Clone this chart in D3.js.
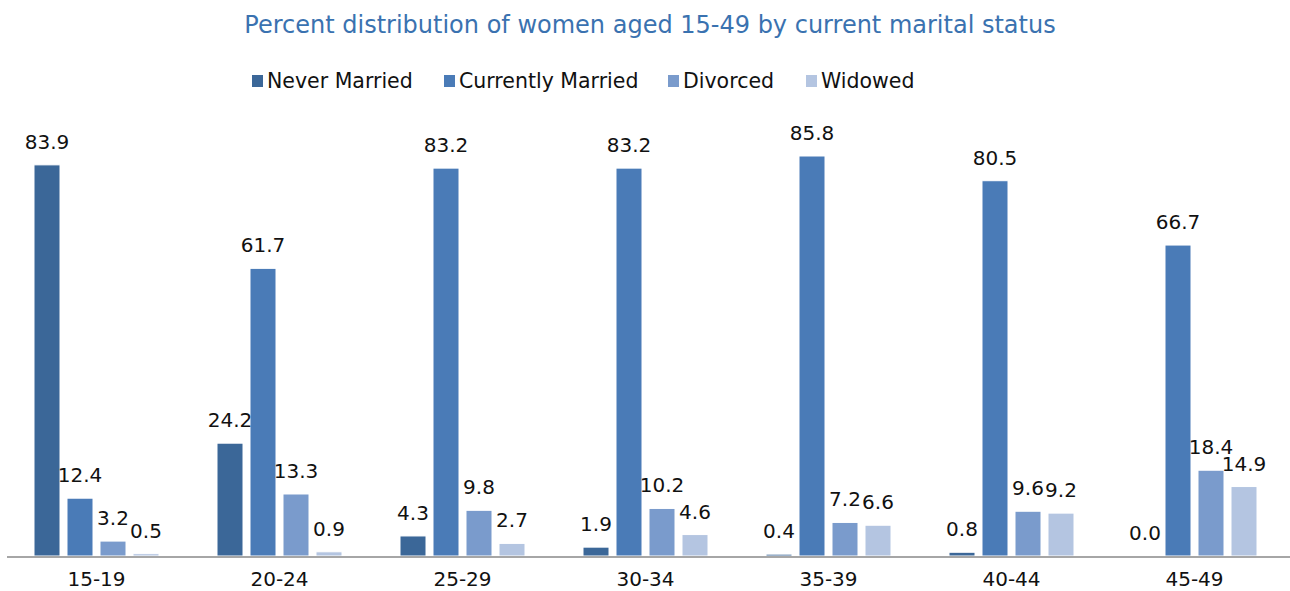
<!DOCTYPE html>
<html lang="en">
	<head>
		<meta charset="UTF-8" />
		<title>Marital status chart</title>
		<style>
			body { margin: 0; background: #fff; }
			text { font-family: "DejaVu Sans", sans-serif; }
		</style>
	</head>
	<body>
		<div id="chart"></div>
		<script src="https://d3js.org/d3.v7.min.js"></script>
		<script>
			const width = 1290;
			const height = 591;

			const ageGroups = ["15-19", "20-24", "25-29", "30-34", "35-39", "40-44", "45-49"];
			const seriesNames = ["Never Married", "Currently Married", "Divorced", "Widowed"];
			const neverMarried = [83.9, 24.2, 4.3, 1.9, 0.4, 0.8, 0.0];
			const currentlyMarried = [12.4, 61.7, 83.2, 83.2, 85.8, 80.5, 66.7];
			const divorced = [3.2, 13.3, 9.8, 10.2, 7.2, 9.6, 18.4];
			const widowed = [0.5, 0.9, 2.7, 4.6, 6.6, 9.2, 14.9];
			const colors = ["#3b6798", "#4a7bb7", "#7a9bcc", "#b4c5e1"];

			const seriesValues = [neverMarried, currentlyMarried, divorced, widowed];
			const rows = ageGroups.map((g, i) => ({
				group: g,
				values: seriesNames.map((s, j) => ({ key: s, value: seriesValues[j][i] })),
			}));

			const svg = d3
				.select("#chart")
				.append("svg")
				.attr("width", width)
				.attr("height", height);

			const baseY = 556;

			const x0 = d3.scaleBand().domain(ageGroups).range([5, 1286]);
			const x1 = d3
				.scaleBand()
				.domain(seriesNames)
				.range([29, x0.bandwidth() - 29])
				.paddingInner(0.212);
			const y = d3.scaleLinear().domain([0, 100]).range([baseY, baseY - 466.2]);
			const color = d3.scaleOrdinal().domain(seriesNames).range(colors);

			// title
			svg.append("text")
				.attr("x", 650)
				.attr("y", 33)
				.attr("text-anchor", "middle")
				.style("font-size", "24px")
				.style("fill", "#3a72b0")
				.text("Percent distribution of women aged 15-49 by current marital status");

			// legend
			const legendX = [252, 444, 668, 806];
			const legend = svg
				.append("g")
				.selectAll("g")
				.data(seriesNames)
				.join("g")
				.attr("transform", (d, i) => `translate(${legendX[i]},75)`);
			legend.append("rect")
				.attr("width", 11)
				.attr("height", 12)
				.attr("fill", (d) => color(d));
			legend.append("text")
				.attr("x", 15)
				.attr("y", 13)
				.style("font-size", "20.5px")
				.style("fill", "#111")
				.text((d) => d);

			// bars
			const groups = svg
				.append("g")
				.selectAll("g")
				.data(rows)
				.join("g")
				.attr("transform", (d) => `translate(${x0(d.group)},0)`);

			groups.selectAll("rect")
				.data((d) => d.values)
				.join("rect")
				.attr("x", (d) => x1(d.key))
				.attr("y", (d) => y(d.value))
				.attr("width", x1.bandwidth())
				.attr("height", (d) => baseY - y(d.value))
				.attr("fill", (d) => color(d.key))
				.attr("stroke", "#fff")
				.attr("stroke-width", 1);

			groups.selectAll("text")
				.data((d) => d.values)
				.join("text")
				.attr("x", (d) => x1(d.key) + x1.bandwidth() / 2)
				.attr("y", (d) => y(d.value) - 16)
				.attr("text-anchor", "middle")
				.style("font-size", "20px")
				.style("fill", "#111")
				.text((d) => d.value.toFixed(1));

			// axis
			const xAxis = svg
				.append("g")
				.attr("transform", `translate(0,${baseY})`)
				.call(d3.axisBottom(x0).tickSize(0).tickPadding(16));
			xAxis.select(".domain").remove();
			xAxis.selectAll("text")
				.style("font-size", "20px")
				.style("font-family", "'DejaVu Sans', sans-serif")
				.style("fill", "#111");
			svg.append("line")
				.attr("x1", 7)
				.attr("x2", 1290)
				.attr("y1", baseY + 1)
				.attr("y2", baseY + 1)
				.attr("stroke", "#a6a6a6")
				.attr("stroke-width", 2);
		</script>
	</body>
</html>
